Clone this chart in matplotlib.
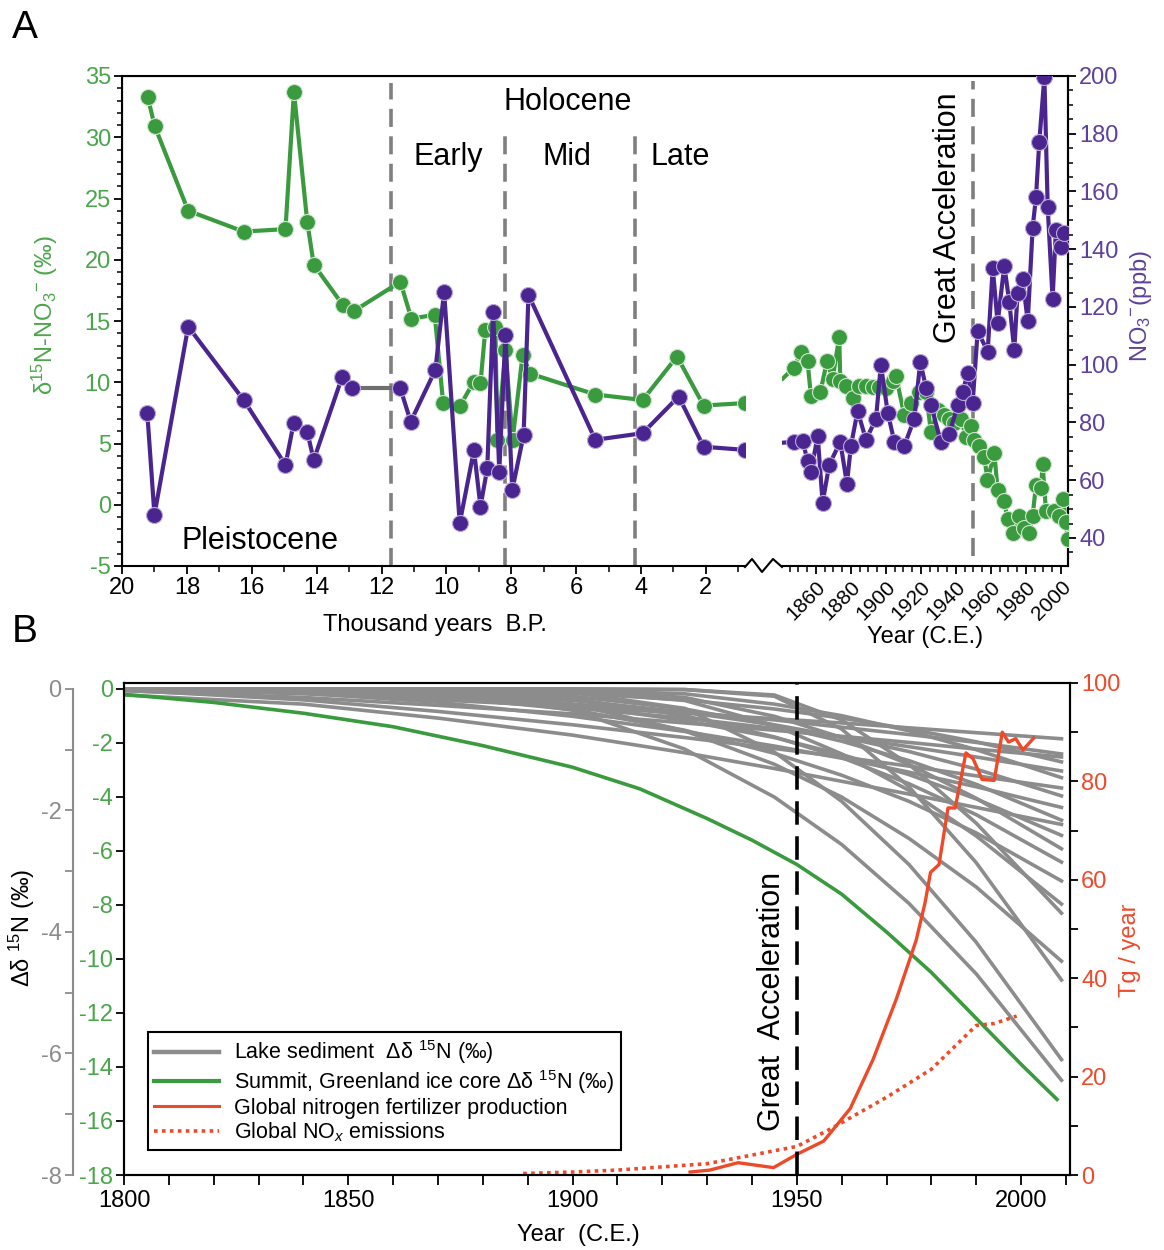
import numpy as np
import matplotlib.pyplot as plt
from matplotlib.lines import Line2D
from matplotlib.ticker import MultipleLocator, FixedLocator

plt.rcParams['font.family'] = ['Liberation Sans', 'DejaVu Sans']
plt.rcParams['mathtext.fontset'] = 'custom'
plt.rcParams['mathtext.rm'] = 'Liberation Sans'
plt.rcParams['mathtext.it'] = 'Liberation Sans:italic'
plt.rcParams['mathtext.bf'] = 'Liberation Sans:bold'
plt.rcParams['axes.unicode_minus'] = False

# ---------------- panel A : ice core, thousand years B.P.
kyr_d15n = [19.21, 18.99, 17.96, 16.25, 14.96, 14.70, 14.29, 14.09, 13.19, 12.86,
            11.42, 11.08, 10.36, 10.10, 9.57, 9.16, 8.95, 8.80, 8.49, 8.43, 8.18,
            7.96, 7.65, 7.41, 5.41, 3.95, 2.89, 2.07, 0.79]
d15n_old = [33.3, 30.9, 24.0, 22.3, 22.5, 33.7, 23.1, 19.6, 16.3, 15.8,
            18.2, 15.2, 15.5, 8.3, 8.1, 10.05, 9.9, 14.3, 14.5, 5.3, 12.6,
            5.3, 12.2, 10.7, 9.0, 8.55, 12.1, 8.1, 8.3]

kyr_no3_pleist = [19.22, 19.0, 17.96, 16.25, 14.96, 14.71, 14.29, 14.09, 13.21, 12.90]
no3_pleist = [83.2, 48.0, 113.2, 87.8, 65.3, 79.7, 76.8, 67.0, 95.9, 91.8]
kyr_no3_holo = [11.42, 11.10, 10.34, 10.07, 9.59, 9.15, 8.95, 8.74, 8.56, 8.37,
                8.18, 7.97, 7.62, 7.47, 5.41, 3.95, 2.84, 2.07, 0.79]
no3_holo = [91.8, 80.3, 98.2, 125.3, 45.1, 70.5, 50.9, 64.1, 118.4, 63.0,
            110.3, 56.6, 75.7, 124.2, 74.0, 76.3, 89.0, 71.6, 70.5]

# ---------------- panel A : recent years C.E.
yr_d15n = [1841, 1847.6, 1851.4, 1855.2, 1857.1, 1862.5, 1866.3, 1869.5, 1873.3, 1873.9,
           1877.1, 1881, 1884.8, 1888.6, 1892.4, 1896.2, 1900, 1903.8, 1905.7, 1910.5,
           1914.3, 1919, 1922.9, 1925.7, 1929.5, 1933.3, 1936.2, 1939, 1942.9, 1945.7,
           1948.6, 1950.5, 1953.3, 1956.2, 1958, 1961.9, 1963.8, 1967.6, 1969.5, 1972.4,
           1976.2, 1979, 1981.9, 1983.8, 1985.7, 1988.6, 1989.5, 1991.4, 1996.2, 1999,
           2001, 2002.9, 2003.8]
d15n_new = [10.3, 11.2, 12.5, 11.7, 8.9, 9.2, 11.7, 10.3, 13.7, 10.1,
            9.7, 8.7, 9.7, 9.7, 9.6, 9.6, 9.5, 10.1, 10.5, 7.3,
            8.3, 9.2, 9.2, 5.9, 7.7, 7.3, 7.0, 6.7, 7.0, 5.5,
            6.4, 5.3, 4.8, 3.9, 2.0, 4.2, 1.2, 0.3, -1.2, -2.3,
            -0.9, -1.9, -2.3, -0.9, 1.6, 1.4, 3.3, -0.5, -0.5, -0.9,
            0.5, -1.4, -2.8]

yr_no3 = [1841, 1847.6, 1852.4, 1855.2, 1857.1, 1861, 1863.8, 1867.6, 1873.9, 1877.7,
          1880, 1883.8, 1888.6, 1894.3, 1897.1, 1901, 1904.8, 1910.5, 1916.2, 1919.6,
          1922.9, 1925.7, 1931.4, 1936.2, 1941, 1943.8, 1946.7, 1949.5, 1952.4, 1958.1,
          1961, 1963.8, 1967.6, 1970.5, 1973.3, 1975.2, 1978.1, 1981, 1983.8, 1985.7,
          1987.6, 1990.5, 1992.4, 1995.2, 1997.1, 2000, 2001.9]
no3_new = [73.0, 73.3, 73.6, 66.7, 62.8, 75.3, 52.2, 65.4, 73.3, 58.8,
           72, 84, 74, 81.3, 100, 83.4, 73.3, 72, 81.3, 101,
           92, 86, 73.3, 76, 86, 90.6, 97.2, 86.6, 111.7, 104.5,
           133.6, 114.4, 134.3, 121.6, 105, 125, 129.6, 115, 147.5, 158,
           177.2, 199.7, 154.7, 122.8, 146.8, 140.8, 145.5]

period_bounds = [11.7, 8.2, 4.2]

# ---------------- panel B
lake_years = [1800, 1840, 1870, 1900, 1925, 1945, 1960, 1975, 1990, 2009]
lake_d15n = [
    [0.0, -0.08, -0.18, -0.29, -0.40, -0.49, -0.56, -0.64, -0.72, -0.82],
    [0.0, -0.04, -0.12, -0.25, -0.38, -0.51, -0.63, -0.75, -0.88, -1.07],
    [-0.03, -0.14, -0.27, -0.41, -0.56, -0.68, -0.78, -0.88, -0.99, -1.12],
    [0.0, 0.0, -0.01, -0.07, -0.18, -0.33, -0.48, -0.66, -0.87, -1.20],
    [0.0, -0.05, -0.15, -0.31, -0.48, -0.65, -0.79, -0.95, -1.12, -1.35],
    [0.0, 0.0, 0.0, -0.02, -0.08, -0.25, -0.44, -0.69, -1.00, -1.46],
    [-0.02, -0.18, -0.37, -0.59, -0.80, -0.98, -1.12, -1.27, -1.43, -1.63],
    [0.0, -0.01, -0.07, -0.19, -0.38, -0.59, -0.79, -1.03, -1.32, -1.76],
    [0.0, -0.07, -0.22, -0.45, -0.70, -0.94, -1.14, -1.37, -1.61, -1.95],
    [0.0, 0.0, -0.01, -0.12, -0.33, -0.60, -0.86, -1.18, -1.57, -2.16],
    [-0.10, -0.25, -0.48, -0.76, -1.05, -1.31, -1.52, -1.73, -1.95, -2.23],
    [0.0, -0.02, -0.09, -0.26, -0.52, -0.80, -1.08, -1.41, -1.81, -2.41],
    [0.0, 0.0, 0.0, -0.03, -0.14, -0.45, -0.80, -1.24, -1.80, -2.63],
    [0.0, 0.0, -0.02, -0.16, -0.44, -0.79, -1.13, -1.56, -2.07, -2.85],
    [0.0, -0.02, -0.12, -0.34, -0.68, -1.06, -1.42, -1.85, -2.37, -3.16],
    [0.0, 0.0, 0.0, -0.04, -0.19, -0.60, -1.07, -1.67, -2.42, -3.54],
    [0.0, 0.0, 0.0, 0.0, -0.01, -0.10, -0.51, -1.24, -2.21, -3.69],
    [0.0, 0.0, -0.03, -0.25, -0.69, -1.24, -1.78, -2.46, -3.26, -4.48],
    [0.0, 0.0, 0.0, 0.0, -0.01, -0.12, -0.66, -1.61, -2.86, -4.79],
    [0.0, 0.0, 0.0, -0.06, -0.32, -1.04, -1.85, -2.89, -4.17, -6.10],
    [0.0, 0.0, -0.04, -0.35, -0.99, -1.78, -2.56, -3.53, -4.69, -6.44],
]
summit_years = [1800, 1820, 1840, 1860, 1880, 1900, 1915, 1930, 1940, 1950,
                1960, 1970, 1980, 1990, 2000, 2008]
summit_d15n = [-0.2, -0.5, -0.9, -1.4, -2.1, -2.9, -3.7, -4.8, -5.6, -6.5,
               -7.6, -9.0, -10.5, -12.2, -13.9, -15.2]

fert_years = [1926.2, 1930.6, 1936.9, 1944.8, 1950, 1956, 1961.9, 1967, 1972.2, 1976.6,
              1978.6, 1979.8, 1981.7, 1983.7, 1985.3, 1987.7, 1989.3, 1991.3, 1994,
              1995.8, 1997.2, 1998.8, 2000.4, 2002.8]
fert = [0.6, 1.0, 2.5, 1.5, 4.2, 6.9, 13.5, 23.5, 35.8, 47.7,
        55.4, 61.5, 63.1, 74.6, 74.6, 85.8, 84.6, 80.4, 80.2,
        90.0, 88.0, 88.7, 86.4, 88.8]

nox_years = [1889, 1900, 1910, 1930, 1950, 1958, 1970, 1980, 1990, 1994, 1999]
nox = [0.3, 0.6, 1.0, 2.3, 5.8, 9.6, 15.8, 21.5, 30.4, 30.8, 32.3]

# colours
GREEN = '#3a9a3e'
GREEN_T = '#4aa64a'
PURPLE = '#4a2590'
PURPLE_T = '#5e3f9c'
GRAY = '#8c8c8c'
RED = '#ee4a2a'

W, H = 1164, 1250


def box(x0, ytop, x1, ybot):
    return [x0 / W, 1 - ybot / H, (x1 - x0) / W, (ybot - ytop) / H]


fig = plt.figure(figsize=(W / 100, H / 100), dpi=100)
TS = 17
LS = 17

# ================= panel A frame
axF = fig.add_axes(box(122, 76, 1068, 566))
axF.set_xlim(0, 1)
axF.set_xticks([])
axF.spines['bottom'].set_visible(False)
for s in axF.spines.values():
    s.set_linewidth(1.5)
axF.set_ylim(-5, 35)
axF.yaxis.set_major_locator(MultipleLocator(5))
axF.yaxis.set_minor_locator(MultipleLocator(1))
axF.tick_params(axis='y', which='major', length=6, width=1.3, labelsize=TS, labelcolor=GREEN_T, pad=2)
axF.tick_params(axis='y', which='minor', length=3.5, width=1.1)

axF2 = axF.twinx()
axF2.set_ylim(30.3, 200)
axF2.spines['bottom'].set_visible(False)
axF2.spines['right'].set_linewidth(1.5)
axF2.yaxis.set_major_locator(FixedLocator(range(40, 201, 20)))
axF2.yaxis.set_minor_locator(MultipleLocator(5))
axF2.tick_params(axis='y', which='major', length=6, width=1.3, labelsize=TS, labelcolor=PURPLE_T, pad=2)
axF2.tick_params(axis='y', which='minor', length=3.5, width=1.1)


def sub_axes(x0, x1, xlim):
    ax = fig.add_axes(box(x0, 76, x1, 566))
    ax.patch.set_visible(False)
    for k in ('top', 'left', 'right'):
        ax.spines[k].set_visible(False)
    ax.spines['bottom'].set_linewidth(1.5)
    ax.set_xlim(*xlim)
    ax.set_ylim(-5, 35)
    ax.set_yticks([])
    axp = ax.twinx()
    axp.set_ylim(30.3, 200)
    axp.set_yticks([])
    for s in axp.spines.values():
        s.set_visible(False)
    return ax, axp


axL, axLp = sub_axes(122, 745, (20, 0.795))
axL.xaxis.set_major_locator(MultipleLocator(2))
axL.xaxis.set_minor_locator(MultipleLocator(1))
axL.tick_params(axis='x', which='major', length=6, width=1.3, labelsize=TS, pad=2)
axL.tick_params(axis='x', which='minor', length=4, width=1.1)

axR, axRp = sub_axes(782, 1068, (1840.6, 2004))
axR.xaxis.set_major_locator(MultipleLocator(20))
axR.xaxis.set_minor_locator(MultipleLocator(5))
axR.tick_params(axis='x', which='major', length=6, width=1.3, labelsize=15, pad=2)
axR.tick_params(axis='x', which='minor', length=4, width=1.1)
for lab in axR.get_xticklabels():
    lab.set_rotation(45)
    lab.set_ha('right')
    lab.set_rotation_mode('anchor')

# broken axis zigzag
fig.add_artist(Line2D(np.array([745, 752, 762, 773, 782]) / W,
                      1 - np.array([567, 559, 572, 559, 567]) / H,
                      color='black', lw=1.5))

mk = dict(marker='o', ms=11.5, lw=3, mew=0.8)
dash = dict(color='#7f7f7f', lw=2.6, dashes=(5, 2.6), zorder=1)

axL.axvline(period_bounds[0], ymin=0, ymax=0.986, **dash)
axL.axvline(period_bounds[1], ymin=0, ymax=0.878, **dash)
axL.axvline(period_bounds[2], ymin=0, ymax=0.878, **dash)
axR.axvline(1950, ymin=0.02, ymax=0.99, **dash)

axL.plot(kyr_d15n, d15n_old, color=GREEN, mfc=GREEN, mec='#cfe6cf', zorder=3, **mk)
axLp.plot([kyr_no3_pleist[-1], kyr_no3_holo[0]], [no3_pleist[-1], no3_holo[0]],
          color='#6e6e6e', lw=3, zorder=2)
axLp.plot(kyr_no3_pleist, no3_pleist, color=PURPLE, mfc=PURPLE, mec='#b9a8d8', zorder=3, **mk)
axLp.plot(kyr_no3_holo, no3_holo, color=PURPLE, mfc=PURPLE, mec='#b9a8d8', zorder=3, **mk)

axR.plot(yr_d15n, d15n_new, color=GREEN, mfc=GREEN, mec='#cfe6cf', zorder=3,
         markevery=list(range(1, len(yr_d15n))), **mk)
axRp.plot(yr_no3, no3_new, color=PURPLE, mfc=PURPLE, mec='#b9a8d8', zorder=3,
          markevery=list(range(1, len(yr_no3))), **mk)

tfs = 22
axL.text(0.716, 0.947, 'Holocene', transform=axL.transAxes, ha='center', va='center', fontsize=tfs)
axL.text(0.523, 0.835, 'Early', transform=axL.transAxes, ha='center', va='center', fontsize=tfs)
axL.text(0.714, 0.835, 'Mid', transform=axL.transAxes, ha='center', va='center', fontsize=tfs)
axL.text(0.896, 0.835, 'Late', transform=axL.transAxes, ha='center', va='center', fontsize=tfs)
axL.text(0.2215, 0.051, 'Pleistocene', transform=axL.transAxes, ha='center', va='center', fontsize=tfs)
axR.text(0.58, 0.71, 'Great Acceleration', transform=axR.transAxes, ha='center', va='center',
         rotation=90, fontsize=tfs)

fig.text(435 / W, 1 - 625 / H, 'Thousand years  B.P.', ha='center', va='center', fontsize=LS)
fig.text(925 / W, 1 - 637 / H, 'Year (C.E.)', ha='center', va='center', fontsize=LS)
fig.text(45 / W, 1 - 315 / H, 'δ$^{15}$N-NO$_3$$^{-}$ (‰)', ha='center', va='center',
         rotation=90, fontsize=LS, color=GREEN_T)
fig.text(1141 / W, 1 - 306 / H, 'NO$_3$$^{-}$(ppb)', ha='center', va='center',
         rotation=90, fontsize=LS, color=PURPLE_T)
fig.text(25 / W, 1 - 28 / H, 'A', ha='center', va='center', fontsize=28)
fig.text(25 / W, 1 - 632 / H, 'B', ha='center', va='center', fontsize=28)

# ================= panel B
axB = fig.add_axes(box(124, 683, 1070, 1175))
axB.set_xlim(1800, 2010.9)
axB.set_ylim(-18, 0.22)
for s in axB.spines.values():
    s.set_linewidth(1.5)
axB.yaxis.set_major_locator(MultipleLocator(2))
axB.xaxis.set_major_locator(FixedLocator([1800, 1850, 1900, 1950, 2000]))
axB.xaxis.set_minor_locator(MultipleLocator(10))
axB.tick_params(axis='y', which='major', length=6, width=1.3, labelsize=TS, labelcolor=GREEN_T, pad=2)
axB.tick_params(axis='x', which='major', length=7, width=1.3, labelsize=TS)
axB.tick_params(axis='x', which='minor', length=7, width=1.3)

axG = axB.twinx()
axG.set_ylim(-8, 0.22 / 2.25)
for k in ('top', 'bottom', 'right'):
    axG.spines[k].set_visible(False)
axG.yaxis.tick_left()
axG.spines['left'].set_visible(True)
axG.spines['left'].set_position(('outward', 37))
axG.spines['left'].set_bounds(-8, 0)
axG.spines['left'].set_color(GRAY)
axG.spines['left'].set_linewidth(1.5)
axG.yaxis.set_major_locator(MultipleLocator(2))
axG.yaxis.set_minor_locator(MultipleLocator(1))
axG.tick_params(axis='y', which='both', color=GRAY, labelcolor=GRAY, labelsize=TS, width=1.3, pad=2)
axG.tick_params(axis='y', which='major', length=6)
axG.tick_params(axis='y', which='minor', length=6)

axRd = axB.twinx()
axRd.set_ylim(0, 100)
for s in axRd.spines.values():
    s.set_linewidth(1.5)
axRd.yaxis.set_major_locator(MultipleLocator(20))
axRd.yaxis.set_minor_locator(MultipleLocator(10))
axRd.tick_params(axis='y', which='both', length=6, width=1.3, labelsize=TS, labelcolor=RED, pad=2)

axG.set_zorder(1)
axB.set_zorder(2)
axRd.set_zorder(3)
axB.patch.set_visible(False)

for vals in lake_d15n:
    axG.plot(lake_years, vals, color=GRAY, lw=2.6)
axB.plot(summit_years, summit_d15n, color=GREEN, lw=2.6)
axRd.plot(fert_years, fert, color=RED, lw=2.4)
axRd.plot(nox_years, nox, color=RED, lw=2.6, ls=(0, (1, 1.2)))
axRd.axvline(1950, color='black', lw=2.6, dashes=(6.5, 3.2))
axRd.text(0.685, 0.352, 'Great  Acceleration', transform=axRd.transAxes, ha='center',
          va='center', rotation=90, fontsize=tfs)

handles = [Line2D([], [], color=GRAY, lw=3.2),
           Line2D([], [], color=GREEN, lw=3),
           Line2D([], [], color=RED, lw=2.2),
           Line2D([], [], color=RED, lw=2.6, ls=(0, (1, 1.2)))]
labels = ['Lake sediment  Δδ $^{15}$N (‰)',
          'Summit, Greenland ice core Δδ $^{15}$N (‰)',
          'Global nitrogen fertilizer production',
          'Global NO$_{x}$ emissions']
leg = axRd.legend(handles, labels, loc='upper left', bbox_to_anchor=(148 / W, 1 - 1032 / H),
                  bbox_transform=fig.transFigure, fontsize=15.5, fancybox=False,
                  edgecolor='black', framealpha=1, handlelength=3.0, borderpad=0.3,
                  labelspacing=0.08, handletextpad=0.7, borderaxespad=0)
leg.get_frame().set_linewidth(1.5)

fig.text(578 / W, 1 - 1235 / H, 'Year  (C.E.)', ha='center', va='center', fontsize=LS)
fig.text(22 / W, 1 - 928 / H, 'Δδ $^{15}$N (‰)', ha='center', va='center', rotation=90, fontsize=LS)
fig.text(1130 / W, 1 - 950 / H, 'Tg / year', ha='center', va='center', rotation=90,
         fontsize=LS, color=RED)

fig.savefig('out.png', dpi=100, facecolor='white')
